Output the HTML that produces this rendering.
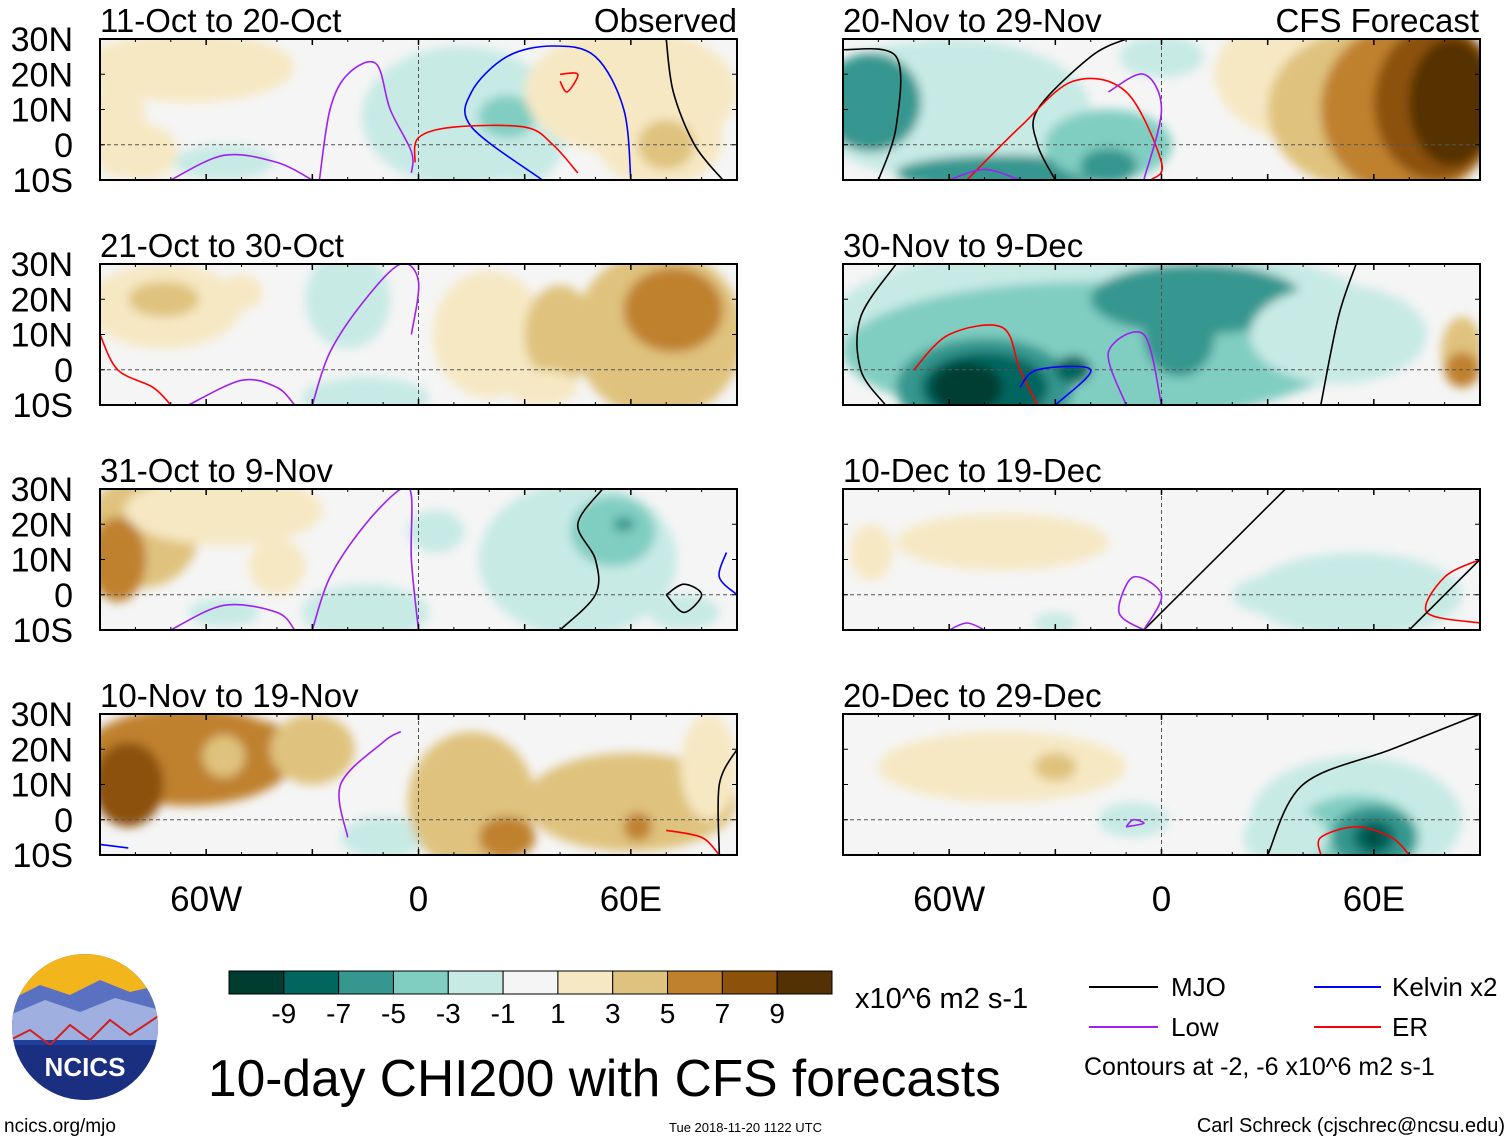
<!DOCTYPE html>
<html><head><meta charset="utf-8">
<style>
html,body{margin:0;padding:0;background:#fff;}
svg{display:block;font-family:"Liberation Sans",sans-serif;}
</style></head>
<body>
<svg id="fig" width="1510" height="1142" viewBox="0 0 1510 1142" xmlns="http://www.w3.org/2000/svg">
<defs>
<filter id="soft" x="-20%" y="-20%" width="140%" height="140%"><feGaussianBlur stdDeviation="5"/></filter>
</defs>
<g id="panels"></g>
<g id="xaxis"></g>
<g id="cbar"></g>
<text x="855" y="1008" font-size="29" fill="#000">x10^6 m2 s-1</text>
<text x="208" y="1096" font-size="51.5" fill="#000">10-day CHI200 with CFS forecasts</text>
<text x="4" y="1132" font-size="19" fill="#000">ncics.org/mjo</text>
<text x="669" y="1132" font-size="13" fill="#000">Tue 2018-11-20 1122 UTC</text>
<text x="1505" y="1132" font-size="20" fill="#000" text-anchor="end">Carl Schreck (cjschrec@ncsu.edu)</text>
<g>
<line x1="1089" y1="987" x2="1158" y2="987" stroke="#000" stroke-width="2"/>
<text x="1171" y="996" font-size="26">MJO</text>
<line x1="1314" y1="987" x2="1381" y2="987" stroke="#0000ff" stroke-width="2"/>
<text x="1392" y="996" font-size="26">Kelvin x2</text>
<line x1="1089" y1="1027" x2="1158" y2="1027" stroke="#a020f0" stroke-width="2"/>
<text x="1171" y="1036" font-size="26">Low</text>
<line x1="1314" y1="1027" x2="1381" y2="1027" stroke="#ff0000" stroke-width="2"/>
<text x="1392" y="1036" font-size="26">ER</text>
<text x="1084" y="1075" font-size="25">Contours at -2, -6 x10^6 m2 s-1</text>
</g>
<g>
<clipPath id="logoclip"><circle cx="85" cy="1027" r="73"/></clipPath>
<g clip-path="url(#logoclip)">
<rect x="10" y="952" width="150" height="150" fill="#1f3f9a"/>
<rect x="10" y="952" width="150" height="50" fill="#f2b61c"/>
<path d="M10 1000 L40 985 L70 995 L100 980 L130 992 L160 985 L160 1030 L10 1030Z" fill="#5a70c0"/>
<path d="M10 1015 L45 1000 L80 1012 L115 998 L160 1010 L160 1040 L10 1040Z" fill="#9fb0e0"/>
<path d="M10 1040 L30 1030 L50 1045 L70 1025 L90 1040 L110 1020 L130 1035 L160 1015" fill="none" stroke="#d02020" stroke-width="2"/>
<rect x="10" y="1045" width="150" height="60" fill="#1a2f80"/>
</g>
<text x="85" y="1076" font-size="26" font-weight="bold" fill="#fff" text-anchor="middle">NCICS</text>
</g>
</svg>
<script>
// colour levels (BrBG): index 0..10
const levelColors = ["#003c30","#01665e","#35978f","#80cdc1","#c7eae5","#f5f5f5","#f6e8c3","#dfc27d","#bf812d","#8c510a","#543005"];
const levelTicks = ["-9","-7","-5","-3","-1","1","3","5","7","9"];
const lonTicks = [-60,0,60];
const lonTickLabels = ["60W","0","60E"];
const latTicks = [30,20,10,0,-10];
const latTickLabels = ["30N","20N","10N","0","10S"];
const panelTitles = ["11-Oct to 20-Oct","21-Oct to 30-Oct","31-Oct to 9-Nov","10-Nov to 19-Nov","20-Nov to 29-Nov","30-Nov to 9-Dec","10-Dec to 19-Dec","20-Dec to 29-Dec"];
// anomaly blobs per panel: [lon, lat, lonRadius, latRadius, levelIndex]
const blobs0 = [[-65,22,30,10,6],[-85,5,8,14,6],[-78,-2,10,8,6],[12,8,28,20,4],[30,5,12,16,4],[25,8,8,6,3],[60,15,30,18,6],[68,2,18,14,6],[70,0,8,7,7],[-55,-5,14,5,4]];
const blobs1 = [[-72,18,22,12,6],[-72,20,10,5,7],[-50,22,6,5,6],[-15,-8,18,6,4],[-20,20,12,14,4],[20,10,16,18,6],[40,10,10,14,7],[68,10,24,24,7],[72,17,14,12,8],[35,-5,10,5,6]];
const blobs2 = [[-78,18,16,16,7],[-85,10,8,12,8],[-55,24,28,10,6],[-40,8,8,8,6],[-15,-5,18,8,4],[5,18,8,6,4],[45,10,28,22,4],[55,18,12,10,3],[58,20,3,2,2],[75,-5,10,5,4],[-55,-5,10,4,4]];
const blobs3 = [[-65,18,30,14,8],[-82,10,10,12,9],[-45,20,10,8,8],[-55,18,6,6,7],[-10,-5,12,6,4],[15,5,18,20,7],[25,-5,8,6,8],[60,5,30,14,7],[62,-2,4,4,8],[82,15,8,15,6],[-30,20,12,10,7]];
const blobs4 = [[-60,10,40,20,4],[-82,12,14,14,2],[-45,-8,30,5,2],[-15,0,18,10,3],[-15,-6,8,5,2],[0,25,12,6,4],[45,20,30,20,6],[55,10,25,22,7],[70,10,25,25,8],[78,12,18,22,9],[82,12,12,18,10]];
const blobs5 = [[-15,12,80,25,4],[-20,5,70,20,3],[-50,-5,25,14,2],[-50,-5,18,10,1],[-55,-5,10,7,0],[10,20,30,10,2],[5,10,10,12,2],[-25,0,5,4,1],[50,10,25,14,4],[85,5,6,10,7],[85,0,5,5,8]];
const blobs6 = [[-45,15,30,8,6],[-82,12,6,8,6],[55,0,30,12,4],[35,0,15,6,4],[-30,-8,6,3,4]];
const blobs7 = [[-45,15,35,10,6],[-30,15,6,4,7],[-8,0,10,5,4],[55,0,30,18,4],[55,-5,18,12,3],[60,-5,12,9,2],[60,-5,6,5,1],[60,-5,2,2,0],[35,-5,12,8,4]];
const allBlobs = [blobs0,blobs1,blobs2,blobs3,blobs4,blobs5,blobs6,blobs7];
// contour lines per panel: [type, [[lon,lat],...]]
const lines0 = [["low",[[-70,-10],[-55,-3],[-40,-5],[-30,-10]]],["low",[[-28,-10],[-25,10],[-20,20],[-12,23],[-8,10],[-2,-2],[-2,-8]]],["kelvin",[[35,-10],[15,5],[15,15],[25,25],[38,28],[50,25],[58,10],[60,-10]]],["er",[[-1,-5],[0,2],[10,5],[30,5],[38,0],[45,-8]]],["er",[[40,18],[42,15],[45,20],[40,20]]],["mjo",[[70,30],[72,15],[78,0],[86,-10]]]];
const lines1 = [["er",[[-90,10],[-85,0],[-75,-5],[-70,-10]]],["low",[[-65,-10],[-50,-3],[-40,-5],[-35,-10]]],["low",[[-30,-10],[-25,5],[-15,20],[-5,30],[0,25],[-2,10]]]];
const lines2 = [["low",[[-70,-10],[-55,-3],[-40,-5],[-35,-10]]],["low",[[-30,-10],[-25,5],[-15,20],[-5,30],[-2,28],[-2,10],[0,-10]]],["mjo",[[40,-10],[50,0],[50,10],[45,20],[52,30]]],["mjo",[[70,0],[75,-5],[80,0],[75,3],[70,0]]],["kelvin",[[87,12],[85,5],[90,0]]]];
const lines3 = [["low",[[-20,-5],[-22,10],[-10,22],[-5,25]]],["mjo",[[85,-10],[85,10],[90,20]]],["er",[[70,-3],[80,-5],[85,-10]]],["kelvin",[[-90,-7],[-82,-8]]]];
const lines4 = [["mjo",[[-90,27],[-75,25],[-75,5],[-80,-10]]],["mjo",[[-30,-10],[-35,0],[-35,10],[-20,25],[-10,30]]],["er",[[-55,-10],[-40,5],[-25,18],[-10,15],[0,-5],[-3,-10]]],["low",[[-15,15],[-5,20],[0,10],[-5,-10]]],["low",[[-60,-10],[-50,-7],[-40,-10]]]];
const lines5 = [["mjo",[[-75,30],[-85,15],[-85,0],[-78,-10]]],["er",[[-70,0],[-60,10],[-45,12],[-40,0],[-35,-10]]],["kelvin",[[-40,-5],[-35,0],[-20,0],[-30,-10]]],["low",[[-10,-10],[-15,5],[-5,10],[0,-10]]],["mjo",[[45,-10],[50,15],[55,30]]]];
const lines6 = [["mjo",[[-5,-10],[10,5],[20,15],[35,30]]],["low",[[-5,-10],[-12,-5],[-8,5],[0,0],[-5,-10]]],["er",[[90,10],[80,5],[75,-5],[90,-8]]],["mjo",[[70,-10],[85,5],[90,10]]],["low",[[-60,-10],[-55,-8],[-50,-10]]]];
const lines7 = [["mjo",[[30,-10],[40,10],[65,20],[90,30]]],["er",[[45,-10],[45,-5],[55,-2],[65,-5],[70,-10]]],["low",[[-10,-2],[-5,-1],[-8,0],[-10,-2]]]];
const allLines = [lines0,lines1,lines2,lines3,lines4,lines5,lines6,lines7];
const lineColor = {mjo:"#000",low:"#a020f0",kelvin:"#0000ff",er:"#ff0000"};

const NS="http://www.w3.org/2000/svg";
function mk(tag,attrs,parent){const e=document.createElementNS(NS,tag);for(const k in attrs)e.setAttribute(k,attrs[k]);if(parent)parent.appendChild(e);return e;}
const colX=[100,843], rowY=[39,264,489,714], PW=637, PH=141;
function xs(col,lon){return colX[col]+(lon+90)/180*PW;}
function ys(row,lat){return rowY[row]+(30-lat)/40*PH;}
function smooth(pts){
  let d='M'+pts[0][0].toFixed(1)+' '+pts[0][1].toFixed(1);
  for(let i=0;i<pts.length-1;i++){
    const p0=pts[Math.max(0,i-1)],p1=pts[i],p2=pts[i+1],p3=pts[Math.min(pts.length-1,i+2)];
    const c1=[p1[0]+(p2[0]-p0[0])/6,p1[1]+(p2[1]-p0[1])/6], c2=[p2[0]-(p3[0]-p1[0])/6,p2[1]-(p3[1]-p1[1])/6];
    d+=' C'+c1[0].toFixed(1)+' '+c1[1].toFixed(1)+' '+c2[0].toFixed(1)+' '+c2[1].toFixed(1)+' '+p2[0].toFixed(1)+' '+p2[1].toFixed(1);
  }
  return d;
}
const panels=document.getElementById('panels');
for(let p=0;p<8;p++){
  const col=Math.floor(p/4), row=p%4, x0=colX[col], y0=rowY[row];
  const g=mk('g',{},panels);
  
  
  const cid='clip'+p;
  const cp=mk('clipPath',{id:cid},g); mk('rect',{x:x0,y:y0,width:PW,height:PH},cp);
  const inner=mk('g',{'clip-path':'url(#'+cid+')'},g);
  mk('rect',{x:x0,y:y0,width:PW,height:PH,fill:levelColors[5]},inner);
  const fg=mk('g',{filter:'url(#soft)'},inner);
  allBlobs[p].forEach(b=>{
    const e=mk('ellipse',{cx:xs(col,b[0]),cy:ys(row,b[1]),rx:b[2]/180*PW,ry:b[3]/40*PH,fill:levelColors[b[4]]},fg);
    
    
  });
  mk('line',{x1:x0,y1:ys(row,0),x2:x0+PW,y2:ys(row,0),stroke:'#555','stroke-dasharray':'4,3','stroke-width':1},inner);
  mk('line',{x1:xs(col,0),y1:y0,x2:xs(col,0),y2:y0+PH,stroke:'#555','stroke-dasharray':'4,3','stroke-width':1},inner);
  allLines[p].forEach(l=>{
    const d=smooth(l[1].map(pt=>[xs(col,pt[0]),ys(row,pt[1])]));
    const pa=mk('path',{d:d,fill:'none',stroke:lineColor[l[0]],'stroke-width':1.6,'stroke-linejoin':'round'},inner);
    
    
  });
  mk('rect',{x:x0,y:y0,width:PW,height:PH,fill:'none',stroke:'#000','stroke-width':2},g);
  for(let lon=-90;lon<=90;lon+=30){const X=xs(col,lon);mk('line',{x1:X,y1:y0,x2:X,y2:y0+6,stroke:'#000','stroke-width':1.5},g);mk('line',{x1:X,y1:y0+PH,x2:X,y2:y0+PH-6,stroke:'#000','stroke-width':1.5},g);}
  for(let lon=-90;lon<=90;lon+=10){const X=xs(col,lon);mk('line',{x1:X,y1:y0,x2:X,y2:y0+3,stroke:'#000'},g);mk('line',{x1:X,y1:y0+PH,x2:X,y2:y0+PH-3,stroke:'#000'},g);}
  latTicks.forEach(lt=>{const Y=ys(row,lt);mk('line',{x1:x0,y1:Y,x2:x0+5,y2:Y,stroke:'#000'},g);mk('line',{x1:x0+PW,y1:Y,x2:x0+PW-5,y2:Y,stroke:'#000'},g);});
  const t=mk('text',{x:x0,y:y0-7,'font-size':33},g);t.textContent=panelTitles[p];
  
  
  if(col===0){
    latTicks.forEach((lt,i)=>{const tx=mk('text',{x:73,y:ys(row,lt)+12,'font-size':34,'text-anchor':'end'},g);tx.textContent=latTickLabels[i];
      
      });
  }
}
const t1=mk('text',{x:737,y:32,'font-size':33,'text-anchor':'end'},panels);t1.textContent='Observed';


const t2=mk('text',{x:1479,y:32,'font-size':33,'text-anchor':'end'},panels);t2.textContent='CFS Forecast';


const xa=document.getElementById('xaxis');
[0,1].forEach(col=>lonTicks.forEach((lon,i)=>{const tx=mk('text',{x:xs(col,lon),y:911,'font-size':35,'text-anchor':'middle'},xa);tx.textContent=lonTickLabels[i];
  
  }));
const cb=document.getElementById('cbar');
const cbX=229, cbW=603, cbY=971, cbH=23, bw=cbW/levelColors.length;
levelColors.forEach((c,i)=>{const r=mk('rect',{x:cbX+i*bw,y:cbY,width:bw,height:cbH,fill:c,stroke:'#000','stroke-width':1},cb);
  
  });
levelTicks.forEach((l,i)=>{const tx=mk('text',{x:cbX+(i+1)*bw,y:1023,'font-size':28,'text-anchor':'middle'},cb);tx.textContent=l;
  
  });
</script>
</body></html>
